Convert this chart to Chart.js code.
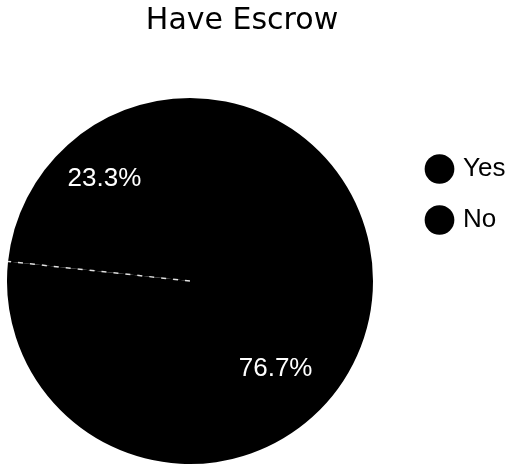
<!DOCTYPE html>
<html>
<head>
<meta charset="utf-8">
<title>Have Escrow</title>
<script src="https://cdn.jsdelivr.net/npm/chart.js@4.4.1/dist/chart.umd.min.js"></script>
<style>
  html, body { margin: 0; padding: 0; background: #fff; overflow: hidden; }
  /* canvas a little wider than the page, pulled left so the pie sits near the edge */
  #wrap { position: absolute; left: -24px; top: 0; width: 536px; height: 465px; }
</style>
</head>
<body>
<div id="wrap"><canvas id="escrowChart"></canvas></div>
<script>
const categories = ['Yes', 'No'];
const shares = [23.3, 76.7];
const sliceColors = ['#000000', '#000000'];

const total = shares.reduce((a, b) => a + b, 0);

// divider between the slices + percentage text inside each slice
const sliceLabels = {
    id: 'sliceLabels',
    afterDatasetsDraw(chart) {
        const ctx = chart.ctx;
        const meta = chart.getDatasetMeta(0);
        ctx.save();

        const first = meta.data[0].getProps(['x', 'y', 'startAngle', 'outerRadius'], true);
        ctx.strokeStyle = 'rgba(255,255,255,0.85)';
        ctx.lineWidth = 1.5;
        ctx.setLineDash([5, 7]);
        ctx.beginPath();
        ctx.moveTo(first.x, first.y);
        ctx.lineTo(first.x + Math.cos(first.startAngle) * first.outerRadius,
                   first.y + Math.sin(first.startAngle) * first.outerRadius);
        ctx.stroke();
        ctx.setLineDash([]);

        ctx.fillStyle = '#fff';
        ctx.font = '26px "Liberation Sans", Arial, sans-serif';
        ctx.textAlign = 'center';
        ctx.textBaseline = 'alphabetic';
        meta.data.forEach((arc, i) => {
            const p = arc.getProps(['x', 'y', 'startAngle', 'endAngle', 'outerRadius'], true);
            const mid = (p.startAngle + p.endAngle) / 2;
            const r = p.outerRadius * 0.7;
            const pct = (shares[i] / total * 100).toFixed(1) + '%';
            ctx.fillText(pct, p.x + Math.cos(mid) * r, p.y + Math.sin(mid) * r);
        });
        ctx.restore();
    }
};

new Chart(document.getElementById('escrowChart'), {
    type: 'pie',
    data: {
        labels: categories,
        datasets: [{
            data: shares,
            backgroundColor: sliceColors,
            borderWidth: 0,
            hoverOffset: 0,
            // "Yes" ends at twelve o'clock
            rotation: -shares[0] / total * 360
        }]
    },
    options: {
        responsive: true,
        maintainAspectRatio: false,
        animation: false,
        layout: {
            padding: { left: 0, right: 4, top: 0, bottom: 1 }
        },
        plugins: {
            title: {
                display: true,
                text: 'Have Escrow',
                color: '#000',
                font: { family: 'DejaVu Sans', size: 30, weight: 'normal' },
                padding: { top: 3, bottom: 59 }
            },
            legend: {
                position: 'right',
                align: 'start',
                fullSize: false,
                maxWidth: 104,
                // empty title just pushes the entries down a bit
                title: {
                    display: true,
                    text: '',
                    font: { size: 10 },
                    padding: { top: 21, bottom: 0 }
                },
                labels: {
                    usePointStyle: true,
                    pointStyle: 'circle',
                    boxWidth: 21,
                    boxHeight: 21,
                    padding: 25,
                    color: '#000',
                    font: { family: 'Liberation Sans', size: 26 }
                }
            },
            tooltip: { enabled: false }
        }
    },
    plugins: [sliceLabels]
});
</script>
</body>
</html>
